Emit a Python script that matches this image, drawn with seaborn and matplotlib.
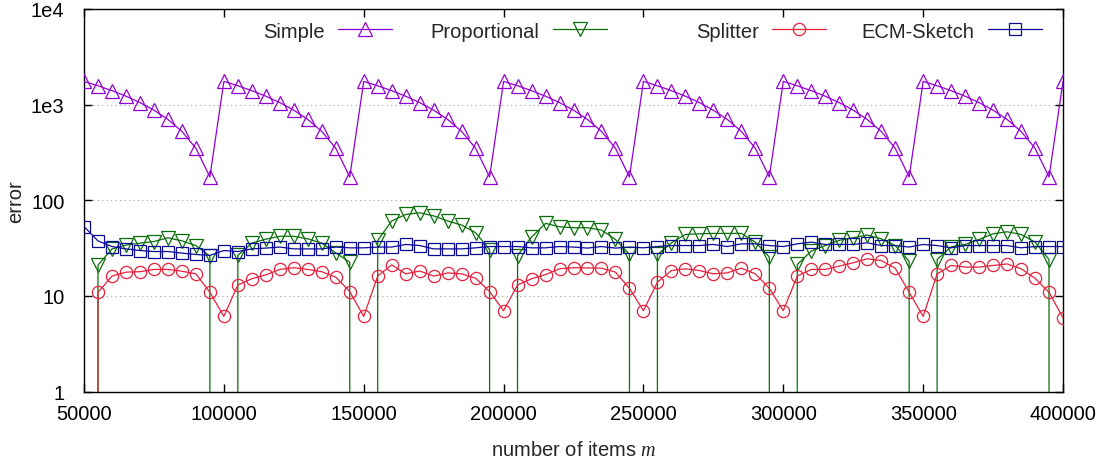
import numpy as np
import pandas as pd
import seaborn as sns
import matplotlib
matplotlib.use("Agg")
import matplotlib.pyplot as plt
from matplotlib.lines import Line2D
from matplotlib.ticker import FixedLocator, FixedFormatter, NullLocator

# ---------------- data ----------------
m_items = list(range(50000, 400001, 5000))

simple = [1750, 1575, 1400, 1225, 1050, 875, 700, 525, 350, 175,
          1750, 1575, 1400, 1225, 1050, 875, 700, 525, 350, 175,
          1750, 1575, 1400, 1225, 1050, 875, 700, 525, 350, 175,
          1750, 1575, 1400, 1225, 1050, 875, 700, 525, 350, 175,
          1750, 1575, 1400, 1225, 1050, 875, 700, 525, 350, 175,
          1750, 1575, 1400, 1225, 1050, 875, 700, 525, 350, 175,
          1750, 1575, 1400, 1225, 1050, 875, 700, 525, 350, 175,
          1750]

proportional = [0, 21, 31, 34, 35.6, 37, 40.5, 37.6, 33.6, 26,
                0, 26.5, 35.6, 39.2, 42, 42, 39.5, 35.6, 28.2, 22.5,
                0, 38, 60.7, 71, 74, 68.6, 60.7, 55, 45.8, 30.5,
                0, 26.4, 41.2, 57.3, 52.8, 51.6, 51.6, 48.8, 38.9, 27.1,
                0, 27.1, 35.8, 43.9, 44.6, 45, 45, 45, 36.5, 25.5,
                0, 21.3, 29.4, 33.6, 38.1, 40.5, 43.3, 39.5, 33.6, 23,
                0, 24, 32.6, 34.5, 38.9, 44.6, 46.8, 43.9, 36.5, 24,
                0]

splitter = [0, 10.9, 16.1, 17.7, 17.9, 18.9, 18.9, 18.1, 17, 10.9,
            6.1, 13, 15.1, 16.6, 18.9, 19.7, 18.9, 17.9, 15.7, 11.1,
            6.1, 16.1, 21.1, 17, 18.2, 16.1, 17.4, 17, 15.3, 11.1,
            7, 13, 15.1, 16.7, 19.2, 19.7, 19.6, 19.5, 17.7, 12,
            7, 13.9, 18.4, 19.2, 18.4, 17, 17.4, 19.5, 17, 12,
            7, 16.1, 18.9, 18.9, 20.5, 22.2, 24.4, 23.4, 19.5, 10.9,
            6.1, 17, 20.8, 20, 20, 20.8, 21.6, 19.2, 15.3, 10.9,
            5.9]

ecm_sketch = [53, 37.6, 32.8, 31, 29.8, 29.1, 29.1, 28, 27.1, 26.5,
              29.8, 29.1, 31, 31.6, 32.4, 31, 31, 31, 32.4, 31.8,
              31.8, 32.4, 32.4, 34.5, 33.6, 31, 31, 31, 31.8, 32.8,
              32.8, 32.8, 31.8, 31.8, 32.8, 32.4, 31.6, 32.8, 31.6, 32.4,
              31.8, 32.8, 33.6, 33.6, 33.6, 34.5, 32.8, 35, 35, 33.6,
              32.8, 35, 36.5, 34.5, 34.5, 34.5, 35.9, 33.6, 33.6, 32.4,
              34.5, 33.6, 31.8, 33.6, 33.6, 33.6, 33.6, 31.8, 32.8, 32.8,
              32.8]

series_names = ["Simple", "Proportional", "Splitter", "ECM-Sketch"]
series_values = [simple, proportional, splitter, ecm_sketch]
series_colors = ["#9400d3", "#0a6e0a", "#e8203c", "#0a0a96"]
series_markers = ["^", "v", "o", "s"]

x_ticks = [50000, 100000, 150000, 200000, 250000, 300000, 350000, 400000]
y_ticks = [1, 10, 100, 1000, 10000]
y_tick_labels = ["1", "10", "100", "1e3", "1e4"]

# ---------------- style ----------------
sns.set_style("ticks")
plt.rcParams["font.family"] = ["Liberation Sans", "DejaVu Sans"]
plt.rcParams["mathtext.fontset"] = "custom"
plt.rcParams["mathtext.it"] = "Liberation Serif:italic"
plt.rcParams["mathtext.rm"] = "Liberation Sans"
FS = 14.5

fig = plt.figure(figsize=(11.07, 4.64), dpi=100)
ax = fig.add_axes([84 / 1107, 1 - 392.5 / 464, (1063 - 84) / 1107, (392.5 - 10) / 464])
ax.set_yscale("log")

marker_sizes = {"^": 9.5, "v": 9.5, "o": 8.8, "s": 8.2}
for name, vals, col, mk in zip(series_names, series_values, series_colors, series_markers):
    sns.lineplot(x=m_items, y=vals, ax=ax, color=col, marker=mk,
                 markersize=marker_sizes[mk], markerfacecolor="none",
                 markeredgecolor=col, markeredgewidth=0.9, linewidth=0.9,
                 estimator=None, sort=False, zorder=3)

ax.set_xlim(50000, 400000)
ax.set_ylim(1, 10000)

ax.xaxis.set_major_locator(FixedLocator(x_ticks))
ax.set_xticklabels([str(v) for v in x_ticks])
ax.yaxis.set_major_locator(FixedLocator(y_ticks))
ax.yaxis.set_major_formatter(FixedFormatter(y_tick_labels))
ax.yaxis.set_minor_locator(NullLocator())
ax.xaxis.set_minor_locator(NullLocator())

ax.tick_params(axis="both", which="major", direction="in", length=6, width=1,
               top=True, right=True, labelsize=FS, colors="black")
ax.tick_params(axis="y", pad=14)
ax.tick_params(axis="x", pad=9)

for s in ax.spines.values():
    s.set_color("black")
    s.set_linewidth(1.0)

ax.yaxis.grid(True, which="major", color="#a0a0a0", linestyle=(0, (1, 3)), linewidth=0.8)
ax.xaxis.grid(False)
ax.set_axisbelow(True)

ax.set_xlabel("number of items $m$", fontsize=FS, labelpad=12)
ax.set_ylabel("error", fontsize=FS, labelpad=4)

# legend: four entries, text left of sample (gnuplot style)
right_edges = [392, 607, 826, 1042]
for name, col, mk, rx in zip(series_names, series_colors, series_markers, right_edges):
    h = Line2D([], [], color=col, marker=mk, markersize=marker_sizes[mk],
               markerfacecolor="none", markeredgecolor=col, markeredgewidth=0.9, linewidth=0.9)
    leg = fig.legend([h], [name], loc="center right",
                     bbox_to_anchor=(rx / 1107, 1 - 32 / 464),
                     bbox_transform=fig.transFigure, frameon=False,
                     markerfirst=False, fontsize=FS, handlelength=2.7,
                     handletextpad=0.65, borderpad=0, borderaxespad=0)

fig.savefig("out.png", dpi=100)
